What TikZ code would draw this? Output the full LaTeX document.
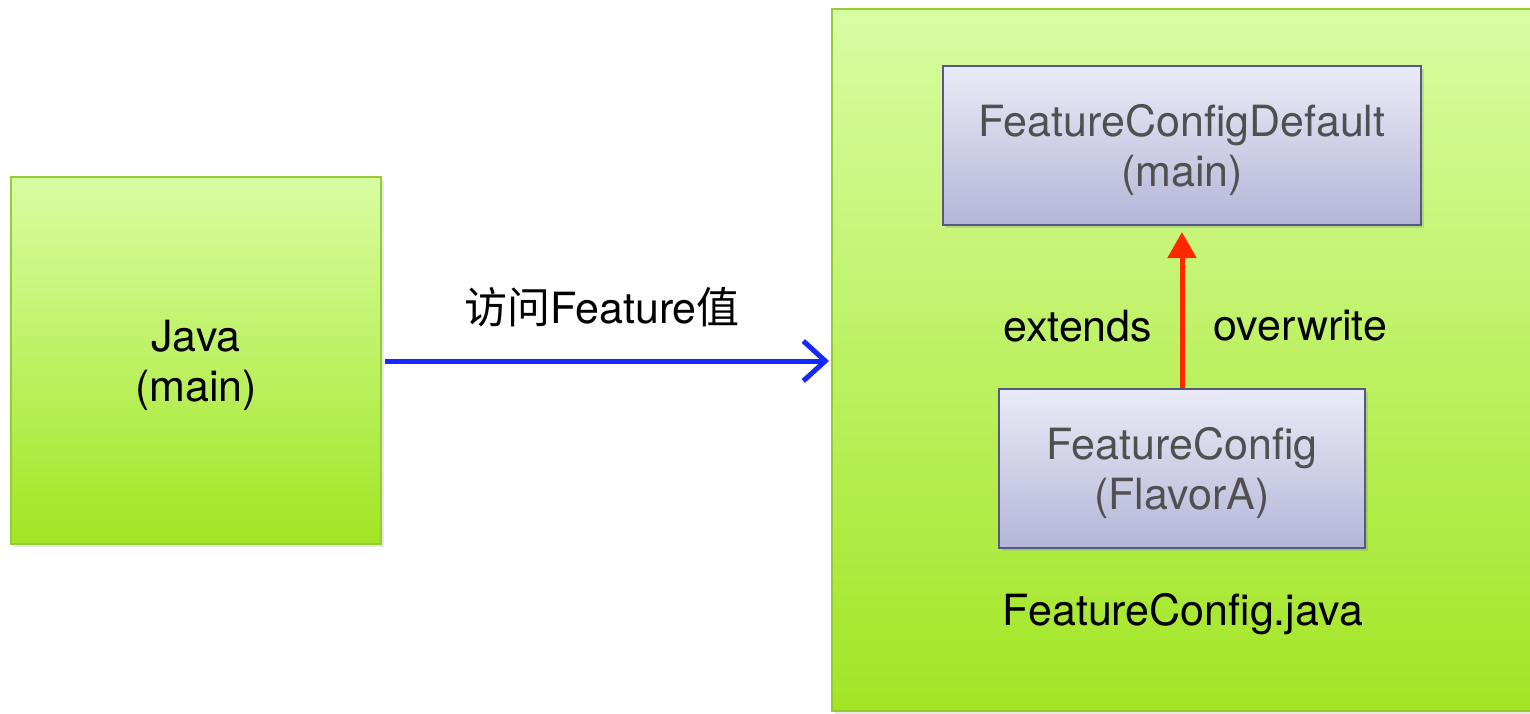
\documentclass[tikz,border=0pt]{standalone}
\usepackage{fontspec}
\setmainfont{TeX Gyre Heros}
\newfontfamily\cjk{Noto Sans CJK SC}
\usepackage{xcolor}
\usepackage{tikz}
\usetikzlibrary{positioning,arrows.meta,shadows}

\definecolor{greentop}{RGB}{215,253,162}
\definecolor{greenbot}{RGB}{163,229,36}
\definecolor{greenline}{RGB}{148,204,52}
\definecolor{lavtop}{RGB}{234,234,246}
\definecolor{lavbot}{RGB}{180,182,216}
\definecolor{lavline}{RGB}{84,90,132}
\definecolor{innertext}{RGB}{80,80,80}
\definecolor{callblue}{RGB}{20,40,255}
\definecolor{extred}{RGB}{255,40,0}

\tikzset{
  greenbox/.style={draw=greenline, line width=2pt, top color=greentop, bottom color=greenbot,
    drop shadow={shadow xshift=3pt, shadow yshift=-3pt, opacity=0.18}, align=center},
  classbox/.style={draw=lavline, line width=2pt, top color=lavtop, bottom color=lavbot,
    drop shadow={shadow xshift=3pt, shadow yshift=-3pt, opacity=0.25}, align=center,
    text=innertext},
  big/.style={font=\fontsize{43}{50}\selectfont},
  lowered/.style={text height=92pt}
}

\begin{document}
\begin{tikzpicture}[x=1pt,y=-1pt]
\useasboundingbox (0,0) rectangle (1530,713);
% left: the caller
\node [greenbox, big, lowered, minimum width=370pt, minimum height=367pt] (java) at (196,360.5) {Java\\(main)};
% right: the config file
\node [greenbox, minimum width=710pt, minimum height=702pt] (file) at (1187,360) {};
\node [classbox, big, lowered, minimum width=478pt, minimum height=159pt] (default) at (1182,145.5) {FeatureConfigDefault\\(main)};
\node [classbox, big, lowered, minimum width=366pt, minimum height=159pt] (flavor) at (1182,468.5) {FeatureConfig\\(FlavorA)};
\node [big] (fname) at (1183,614) {FeatureConfig.java};
\coordinate (fileleft) at (829,361);
\draw [callblue, line width=5pt, -{Straight Barb[length=22pt,width=40pt]}] (java.east |- fileleft) ++(3,0) -- (fileleft)
  node [big, black, midway, above=28pt, xshift=-5pt] (access) {{\cjk 访问}Feature{\cjk 值}};
\draw [extred, line width=5pt, -{Triangle[length=26pt,width=28pt]}] (flavor.north) -- ([yshift=-6pt]default.south)
  node [big, black, midway, left=24pt, yshift=-16pt] (ext) {extends}
  node [big, black, midway, right=26pt, yshift=-16pt] (ovr) {overwrite};
\end{tikzpicture}
\end{document}
